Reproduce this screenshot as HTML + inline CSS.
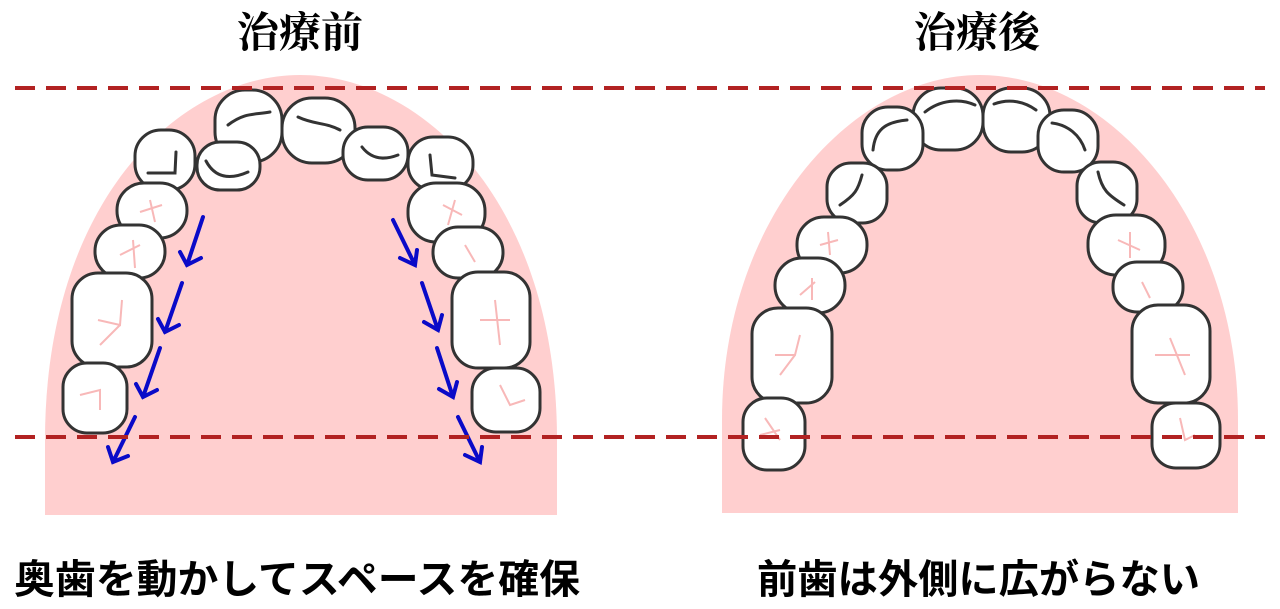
<!DOCTYPE html>
<html><head><meta charset="utf-8"><style>
html,body{margin:0;padding:0;background:#fff;width:1280px;height:609px;overflow:hidden}
svg{display:block}
text{font-family:"Liberation Serif","Noto Serif CJK SC",serif;font-weight:bold}
.b{font-family:"Liberation Sans","Noto Sans CJK JP",sans-serif;font-weight:bold}
.t{fill:#fff;stroke:#333;stroke-width:3}
.f{fill:none;stroke:#f8b8b8;stroke-width:2}
.c{fill:none;stroke:#333;stroke-width:3;stroke-linecap:round}
.a{fill:none;stroke:#0a0ac8;stroke-width:4;stroke-linecap:round}
</style></head><body>
<svg width="1280" height="609" viewBox="0 0 1280 609">
<path d="M45,515 L45,440 C45,200 180,75 300,75 C420,75 557,200 557,440 L557,515Z" fill="#ffcfcf"/>
<path d="M722,513 L722,420 C722,220 850,75 980,75 C1110,75 1238,220 1238,420 L1238,513Z" fill="#ffcfcf"/>
<text x="300" y="47" font-size="42" text-anchor="middle">治療前</text>
<text x="977" y="47" font-size="42" text-anchor="middle">治療後</text>
<!-- left teeth -->
<g>
<rect class="t" x="215" y="90" width="67" height="72" rx="30"/>
<rect class="t" x="282" y="98" width="73" height="65" rx="30"/>
<rect class="t" x="197" y="142" width="63" height="48" rx="23"/>
<rect class="t" x="343" y="127" width="65" height="53" rx="25"/>
<rect class="t" x="135" y="130" width="60" height="60" rx="26"/>
<rect class="t" x="408" y="137" width="65" height="53" rx="25"/>
<rect class="t" x="117" y="183" width="70" height="55" rx="27"/>
<rect class="t" x="95" y="225" width="70" height="53" rx="26"/>
<rect class="t" x="72" y="273" width="80" height="94" rx="26"/>
<rect class="t" x="63" y="363" width="64" height="70" rx="24"/>
<rect class="t" x="408" y="183" width="77" height="59" rx="28"/>
<rect class="t" x="433" y="227" width="70" height="51" rx="25"/>
<rect class="t" x="452" y="272" width="78" height="96" rx="26"/>
<rect class="t" x="472" y="368" width="68" height="64" rx="24"/>
<path class="c" d="M228,125 C245,112 255,115 270,112"/>
<path class="c" d="M298,117 C315,125 325,122 340,130"/>
<path class="c" d="M206,161 C215,178 230,180 248,172"/>
<path class="c" d="M362,147 C372,160 385,160 398,155"/>
<path class="c" d="M148,173 L175,173 L176,152"/>
<path class="c" d="M430,155 L432,175 L455,178"/>
<path class="f" d="M140,212 L162,205 M150,200 L155,222"/><path class="f" d="M120,255 L140,245 M133,240 L135,268"/>
<path class="f" d="M98,320 L120,325 L122,300 M120,325 L100,345"/><path class="f" d="M80,395 L100,390 L100,410"/>
<path class="f" d="M443,205 L462,215 M455,200 L448,225"/><path class="f" d="M465,245 L475,262"/>
<path class="f" d="M480,320 L510,320 M495,300 L500,345"/><path class="f" d="M500,385 L510,405 L525,400"/>
</g>
<!-- arrows -->
<g class="a">
<path d="M203,217 L187,265 M180,252 L187,265 L201,258"/>
<path d="M182,283 L165,332 M158,319 L165,332 L179,325"/>
<path d="M160,348 L143,397 M136,384 L143,397 L157,390"/>
<path d="M135,417 L113,462 M108,447 L113,462 L128,456"/>
<path d="M393,220 L415,265 M400,258 L415,265 L417,250"/>
<path d="M422,283 L438,330 M424,322 L438,330 L442,315"/>
<path d="M437,348 L453,397 M439,389 L453,397 L457,382"/>
<path d="M458,417 L480,462 M465,455 L480,462 L482,447"/>
</g>
<!-- right teeth -->
<g>
<rect class="t" x="913" y="88" width="70" height="62" rx="28"/>
<rect class="t" x="983" y="88" width="67" height="64" rx="28"/>
<rect class="t" x="862" y="107" width="61" height="63" rx="26"/>
<rect class="t" x="1038" y="110" width="60" height="62" rx="26"/>
<rect class="t" x="827" y="163" width="60" height="60" rx="24"/>
<rect class="t" x="1077" y="162" width="60" height="61" rx="24"/>
<rect class="t" x="797" y="217" width="70" height="56" rx="27"/>
<rect class="t" x="775" y="258" width="70" height="55" rx="27"/>
<rect class="t" x="752" y="308" width="80" height="95" rx="26"/>
<rect class="t" x="743" y="398" width="62" height="72" rx="24"/>
<rect class="t" x="1088" y="215" width="77" height="60" rx="28"/>
<rect class="t" x="1113" y="262" width="70" height="50" rx="24"/>
<rect class="t" x="1132" y="305" width="78" height="98" rx="26"/>
<rect class="t" x="1152" y="403" width="68" height="65" rx="24"/>
<path class="c" d="M925,112 C940,100 960,98 975,105"/>
<path class="c" d="M994,104 C1010,98 1025,102 1036,110"/>
<path class="c" d="M873,150 C875,130 885,122 907,120"/>
<path class="c" d="M1052,123 C1068,125 1080,135 1085,150"/>
<path class="c" d="M840,205 C855,195 858,190 862,175"/>
<path class="c" d="M1098,172 C1102,190 1108,195 1124,205"/>
<path class="f" d="M820,245 L838,240 M828,232 L830,255"/><path class="f" d="M800,295 L815,282 M812,278 L812,300"/>
<path class="f" d="M775,355 L795,355 L800,335 M795,355 L780,375"/><path class="f" d="M760,435 L780,430 M765,418 L780,440"/>
<path class="f" d="M1118,240 L1140,250 M1130,232 L1130,258"/><path class="f" d="M1142,282 L1150,298"/>
<path class="f" d="M1155,355 L1190,355 M1170,338 L1185,375"/><path class="f" d="M1180,418 L1185,440 L1195,435"/>
</g>
<g stroke="#b22222" stroke-width="4" stroke-dasharray="20 11">
<line x1="15" y1="88" x2="1265" y2="88"/>
<line x1="15" y1="437" x2="1265" y2="437"/>
</g>
<text class="b" x="14" y="593" font-size="40" textLength="566" lengthAdjust="spacingAndGlyphs">奥歯を動かしてスペースを確保</text>
<text class="b" x="757" y="593" font-size="40" textLength="443" lengthAdjust="spacingAndGlyphs">前歯は外側に広がらない</text>
</svg>
</body></html>
